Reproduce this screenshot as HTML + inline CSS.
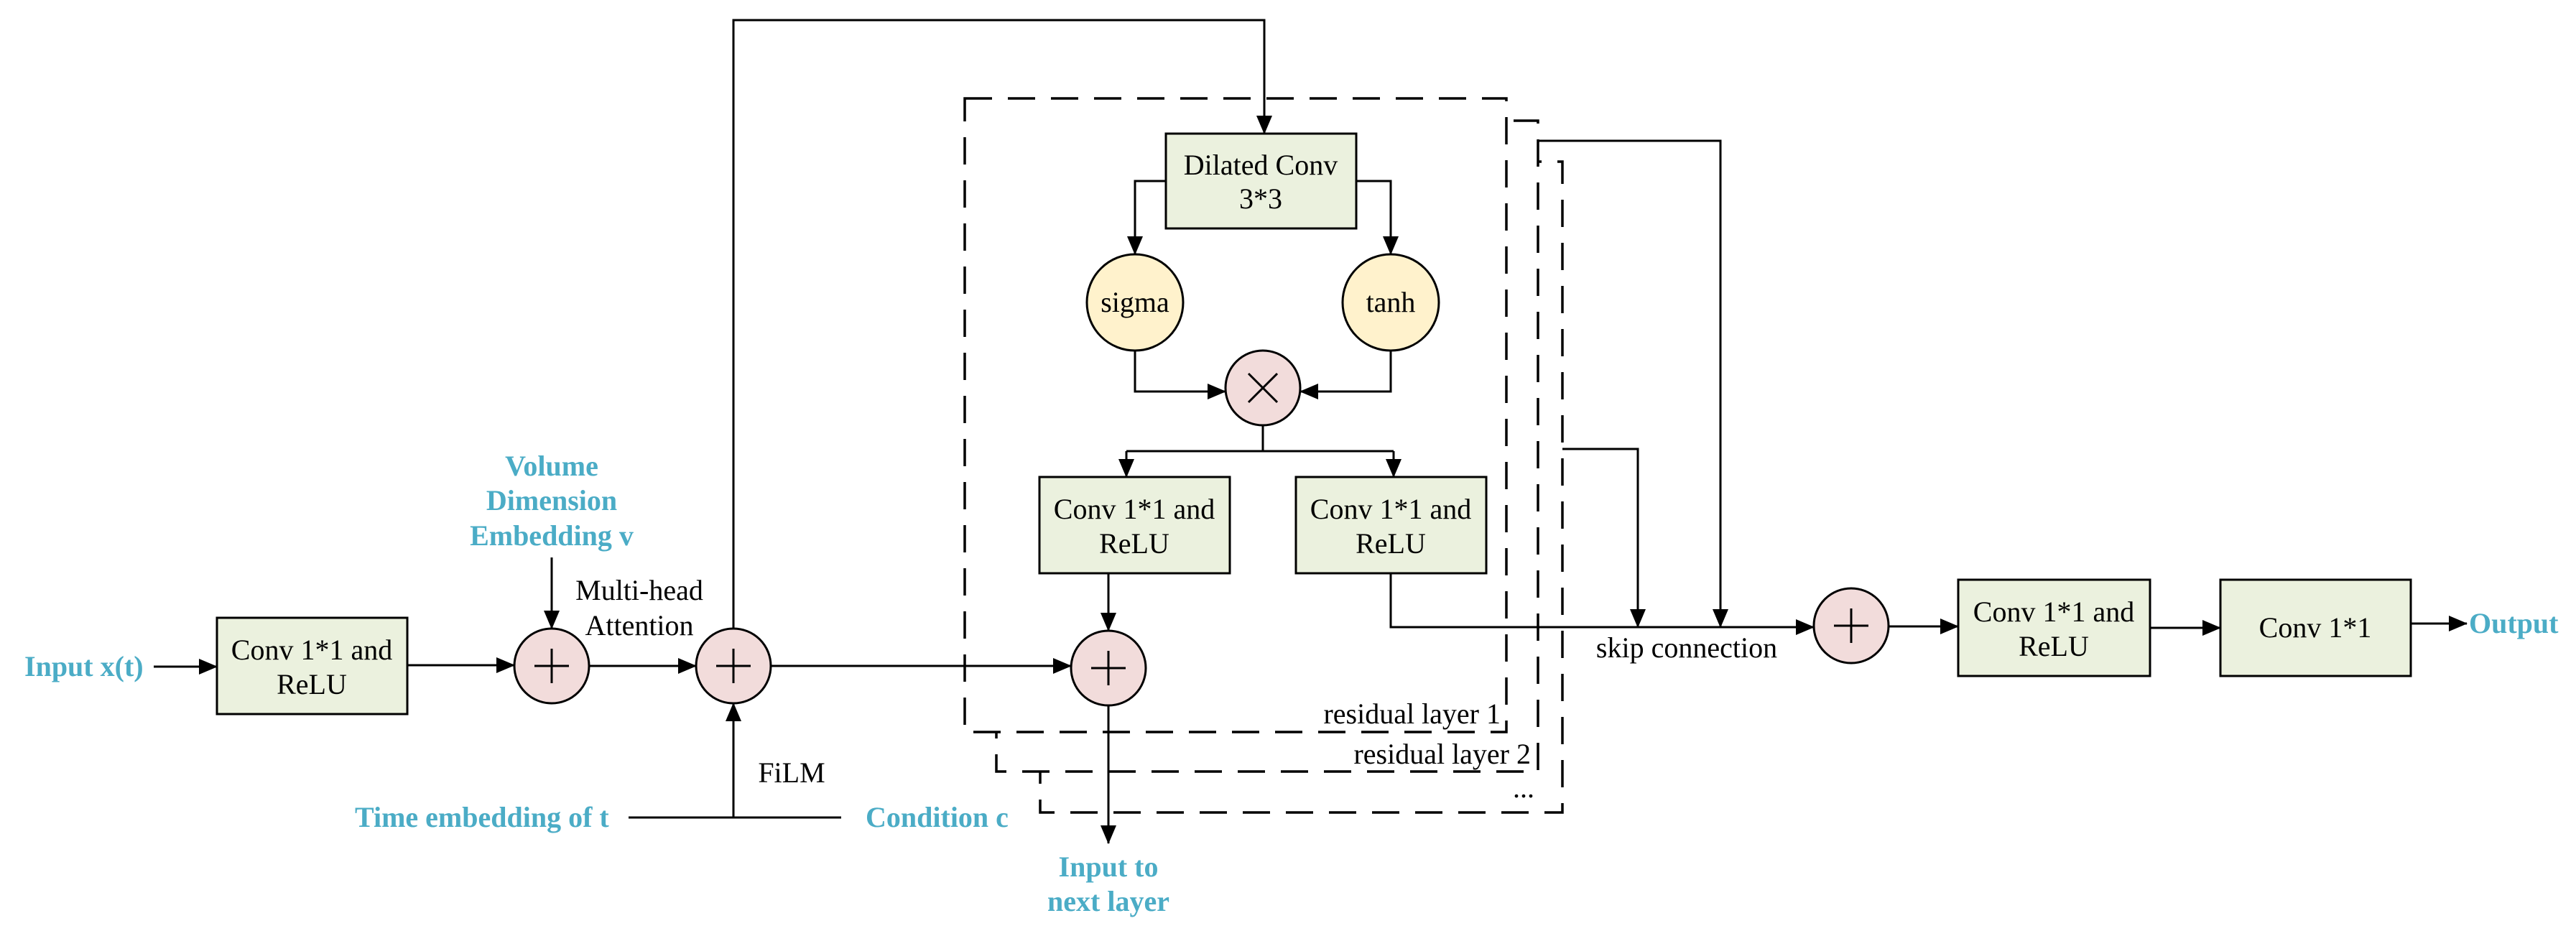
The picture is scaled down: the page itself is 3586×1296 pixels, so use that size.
<!DOCTYPE html>
<html><head><meta charset="utf-8"><style>
html,body{margin:0;padding:0;background:#fff;}
svg{display:block;}
text{font-family:"Liberation Serif",serif;font-size:40px;fill:#000;}
.b{fill:#4BACC6;font-weight:bold;font-size:40px;}
</style></head><body>
<svg width="3586" height="1296" viewBox="0 0 3586 1296" xmlns="http://www.w3.org/2000/svg">
<defs>
<marker id="a" markerWidth="26" markerHeight="22" refX="25" refY="11" orient="auto" markerUnits="userSpaceOnUse">
<path d="M0,0 L26,11 L0,22 Z" fill="#000"/></marker>
</defs>
<g fill="#fff" stroke="#000" stroke-width="3.5" stroke-dasharray="38 22">
<rect x="1448" y="225" width="727" height="906"/>
<rect x="1387" y="168" width="754" height="906"/>
<rect x="1343" y="137" width="754" height="882"/>
</g>
<text x="2089" y="1007" text-anchor="end">residual layer 1</text>
<text x="2131" y="1063" text-anchor="end">residual layer 2</text>
<text x="2121" y="1110" text-anchor="middle">...</text>

<g stroke="#000" stroke-width="3" fill="none">
<line x1="214" y1="928" x2="302" y2="928" marker-end="url(#a)"/>
<line x1="567" y1="926" x2="716" y2="926" marker-end="url(#a)"/>
<line x1="768" y1="776" x2="768" y2="875" marker-end="url(#a)"/>
<line x1="820" y1="927" x2="969" y2="927" marker-end="url(#a)"/>
<line x1="1021" y1="1138" x2="1021" y2="979" marker-end="url(#a)"/>
<line x1="875" y1="1138" x2="1171" y2="1138"/>
<polyline points="1021,875 1021,28 1760,28 1760,186" marker-end="url(#a)"/>
<line x1="1073" y1="927" x2="1491" y2="927" marker-end="url(#a)"/>
<polyline points="1623,252 1580,252 1580,354" marker-end="url(#a)"/>
<polyline points="1888,252 1936,252 1936,354" marker-end="url(#a)"/>
<polyline points="1580,488 1580,545 1706,545" marker-end="url(#a)"/>
<polyline points="1936,488 1936,545 1810,545" marker-end="url(#a)"/>
<line x1="1758" y1="593" x2="1758" y2="628"/>
<polyline points="1568,628 1940,628"/>
<line x1="1568" y1="628" x2="1568" y2="664" marker-end="url(#a)"/>
<line x1="1940" y1="628" x2="1940" y2="664" marker-end="url(#a)"/>
<line x1="1543" y1="798" x2="1543" y2="878" marker-end="url(#a)"/>
<line x1="1543" y1="982" x2="1543" y2="1174" marker-end="url(#a)"/>
<polyline points="1936,798 1936,873 2525,873" marker-end="url(#a)"/>
<polyline points="2141,196 2395,196 2395,873" marker-end="url(#a)"/>
<polyline points="2175,625 2280,625 2280,873" marker-end="url(#a)"/>
<line x1="2629" y1="872" x2="2726" y2="872" marker-end="url(#a)"/>
<line x1="2993" y1="874" x2="3091" y2="874" marker-end="url(#a)"/>
<line x1="3356" y1="868" x2="3434" y2="868" marker-end="url(#a)"/>
</g>

<g fill="#EBF1DE" stroke="#000" stroke-width="3">
<rect x="302" y="860" width="265" height="134"/>
<rect x="1623" y="186" width="265" height="132"/>
<rect x="1447" y="664" width="265" height="134"/>
<rect x="1804" y="664" width="265" height="134"/>
<rect x="2726" y="807" width="267" height="134"/>
<rect x="3091" y="807" width="265" height="134"/>
</g>
<g fill="#F2DCDB" stroke="#000" stroke-width="3">
<circle cx="768" cy="927" r="52"/>
<circle cx="1021" cy="927" r="52"/>
<circle cx="1543" cy="930" r="52"/>
<circle cx="1758" cy="540" r="52"/>
<circle cx="2577" cy="871" r="52"/>
</g>
<g fill="#FFF2CC" stroke="#000" stroke-width="3">
<circle cx="1580" cy="421" r="67"/>
<circle cx="1936" cy="421" r="67"/>
</g>
<g stroke="#000" stroke-width="3">
<line x1="744" y1="927" x2="792" y2="927"/><line x1="768" y1="903" x2="768" y2="951"/>
<line x1="997" y1="927" x2="1045" y2="927"/><line x1="1021" y1="903" x2="1021" y2="951"/>
<line x1="1519" y1="930" x2="1567" y2="930"/><line x1="1543" y1="906" x2="1543" y2="954"/>
<line x1="2553" y1="871" x2="2601" y2="871"/><line x1="2577" y1="847" x2="2577" y2="895"/>
<line x1="1738" y1="520" x2="1778" y2="560"/><line x1="1778" y1="520" x2="1738" y2="560"/>
</g>

<g text-anchor="middle">
<text x="434" y="918">Conv 1*1 and</text><text x="434" y="966">ReLU</text>
<text x="1755" y="243">Dilated Conv</text><text x="1755" y="290">3*3</text>
<text x="1580" y="434">sigma</text><text x="1936" y="434">tanh</text>
<text x="1579" y="722">Conv 1*1 and</text><text x="1579" y="770">ReLU</text>
<text x="1936" y="722">Conv 1*1 and</text><text x="1936" y="770">ReLU</text>
<text x="2859" y="865">Conv 1*1 and</text><text x="2859" y="913">ReLU</text>
<text x="3223" y="887">Conv 1*1</text>
<text x="890" y="835">Multi-head</text><text x="890" y="884">Attention</text>
<text x="1102" y="1089">FiLM</text>
<text x="2348" y="915">skip connection</text>
<text class="b" x="768" y="662">Volume</text>
<text class="b" x="768" y="710">Dimension</text>
<text class="b" x="768" y="759">Embedding v</text>
<text class="b" x="1543" y="1220">Input to</text>
<text class="b" x="1543" y="1268">next layer</text>
</g>
<text class="b" x="34" y="941">Input x(t)</text>
<text class="b" x="494" y="1151">Time embedding of t</text>
<text class="b" x="1205" y="1151">Condition c</text>
<text class="b" x="3437" y="881">Output</text>
</svg>
</body></html>
